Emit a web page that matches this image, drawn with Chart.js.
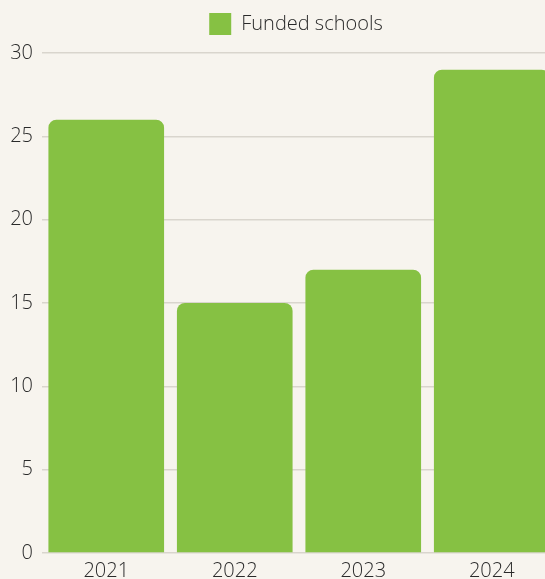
<!DOCTYPE html>
<html>
<head>
<meta charset="utf-8">
<script src="https://cdn.jsdelivr.net/npm/chart.js@4/dist/chart.umd.min.js"></script>
<style>
html,body{margin:0;padding:0;background:#f7f4ee;overflow:hidden;width:545px;height:579px;}
#wrap{position:absolute;left:0;top:0;width:558px;height:581px;}
</style>
</head>
<body>
<div id="wrap"><canvas id="c"></canvas></div>
<script>
const categories = ['2021', '2022', '2023', '2024'];
const fundedSchools = [26, 15, 17, 29];
const seriesLabel = 'Funded schools';
const yTicks = [0, 5, 10, 15, 20, 25, 30];

const FONT = {family: "'Open Sans', sans-serif", size: 20, weight: 300};
const TEXT = '#2a2a2a';

const legendTweak = {
  id: 'legendTweak',
  beforeInit(chart) {
    const orig = chart.legend.fit;
    chart.legend.fit = function () {
      orig.bind(chart.legend)();
      this.height += 8;
    };
  },
  afterUpdate(chart) {
    const lg = chart.legend;
    lg.left += 18;
    lg.right += 18;
    lg.adjustHitBoxes();
  }
};

new Chart(document.getElementById('c'), {
  type: 'bar',
  data: {
    labels: categories,
    datasets: [{
      label: seriesLabel,
      data: fundedSchools,
      backgroundColor: '#86c143',
      borderColor: '#86c143',
      borderWidth: 0,
      borderRadius: 8,
      borderSkipped: 'bottom',
      categoryPercentage: 1.0,
      barPercentage: 0.9
    }]
  },
  plugins: [legendTweak],
  options: {
    responsive: true,
    maintainAspectRatio: false,
    animation: false,
    layout: {padding: {left: 0, right: 2, top: 3, bottom: 0}},
    plugins: {
      legend: {
        display: true,
        labels: {color: TEXT, font: FONT, boxWidth: 22, boxHeight: 22, padding: 10}
      },
      tooltip: {enabled: false}
    },
    scales: {
      x: {
        grid: {display: false},
        border: {display: false},
        ticks: {color: TEXT, font: FONT, padding: -2}
      },
      y: {
        min: 0, max: 30,
        afterBuildTicks: (s) => { s.ticks = yTicks.map(v => ({value: v})); },
        afterFit: (s) => { s.width = 42; },
        grid: {color: '#d9d5cd', lineWidth: 1.5, drawTicks: false},
        border: {display: false},
        ticks: {color: TEXT, font: FONT, padding: 9}
      }
    }
  }
});
</script>
</body>
</html>
